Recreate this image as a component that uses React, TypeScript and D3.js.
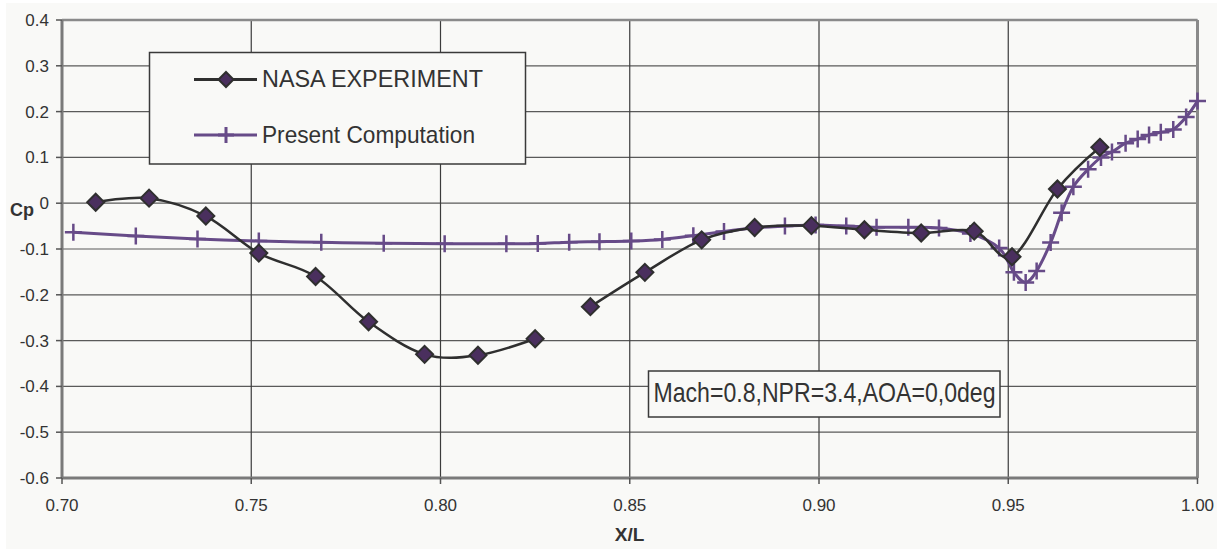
import React from "react";
import * as d3 from "d3";

const nasaX: (number)[] = [0.7089, 0.723, 0.738, 0.752, 0.767, 0.781, 0.7958, 0.8099, 0.825, 0.832, 0.8396, 0.854, 0.869, 0.883, 0.898, 0.912, 0.927, 0.941, 0.951, 0.963, 0.9742];
const nasaY: (number | null)[] = [0.002, 0.011, -0.028, -0.109, -0.16, -0.259, -0.33, -0.332, -0.296, null, -0.226, -0.151, -0.08, -0.053, -0.049, -0.058, -0.065, -0.061, -0.117, 0.031, 0.122];

const compX: number[] = [0.703, 0.7195, 0.7358, 0.752, 0.7685, 0.785, 0.8011, 0.8174, 0.8257, 0.834, 0.842, 0.8504, 0.8586, 0.8668, 0.8749, 0.883, 0.891, 0.8991, 0.9072, 0.9152, 0.9236, 0.9317, 0.94, 0.9476, 0.9515, 0.9546, 0.9575, 0.9612, 0.9641, 0.9672, 0.9711, 0.9745, 0.9774, 0.981, 0.9842, 0.9872, 0.9903, 0.9936, 0.997, 1.0];
const compY: number[] = [-0.0636, -0.0716, -0.078, -0.0825, -0.0854, -0.0876, -0.0884, -0.0884, -0.088, -0.085, -0.084, -0.0825, -0.079, -0.071, -0.062, -0.0535, -0.05, -0.0476, -0.05, -0.0526, -0.0526, -0.054, -0.066, -0.098, -0.151, -0.173, -0.148, -0.086, -0.0207, 0.036, 0.074, 0.1, 0.112, 0.131, 0.14, 0.149, 0.155, 0.161, 0.188, 0.223];

const xTicks: number[] = [0.7, 0.75, 0.8, 0.85, 0.9, 0.95, 1.0];
const yTicks: number[] = [0.4, 0.3, 0.2, 0.1, 0, -0.1, -0.2, -0.3, -0.4, -0.5, -0.6];

const seriesNames = ["NASA EXPERIMENT", "Present Computation"];
const annotation = "Mach=0.8,NPR=3.4,AOA=0,0deg";

const W = 1227;
const H = 550;
const FONT = "'Liberation Sans', Arial, Helvetica, sans-serif";
const NASA_LINE = "#2f2f2f";
const NASA_FILL = "#4a2f5e";
const COMP = "#674b88";
const BG = "#f9f9f7";
const TXT = "#333333";

export default function App() {
  const x = d3.scaleLinear().domain([0.7, 1.0]).range([62, 1197.5]);
  const y = d3.scaleLinear().domain([-0.6, 0.4]).range([478, 20]);

  type P = { x: number; y: number | null };
  const nasa: P[] = nasaX.map((v, i) => ({ x: v, y: nasaY[i] }));
  const comp: P[] = compX.map((v, i) => ({ x: v, y: compY[i] }));

  const line = d3
    .line<P>()
    .defined((d) => d.y !== null)
    .x((d) => x(d.x))
    .y((d) => y(d.y as number))
    .curve(d3.curveCardinal.tension(0));

  const diamond = (cx: number, cy: number, r: number) =>
    `M${cx},${cy - r}L${cx + r},${cy}L${cx},${cy + r}L${cx - r},${cy}Z`;
  const plus = (cx: number, cy: number, r: number) =>
    `M${cx - r},${cy}L${cx + r},${cy}M${cx},${cy - r}L${cx},${cy + r}`;

  const yFmt = (v: number) =>
    Math.abs(v) < 1e-9 ? "0" : d3.format(".1f")(v).replace("\u2212", "-");
  const xFmt = d3.format(".2f");

  return (
    <svg
      width={W}
      height={H}
      style={{ position: "absolute", left: 0, top: 0, display: "block" }}
      fontFamily={FONT}
    >
      <rect x={0} y={0} width={W} height={H} fill="#ffffff" />
      <rect x={6} y={3} width={1211} height={546} fill={BG} />

      {/* gridlines */}
      {yTicks.map((t) => (
        <line key={"gy" + t} x1={62} x2={1197.5} y1={y(t)} y2={y(t)} stroke="#5a5a5a" strokeWidth={1.2} />
      ))}
      {xTicks.map((t) => (
        <line key={"gx" + t} x1={x(t)} x2={x(t)} y1={20} y2={478} stroke="#3c3c3c" strokeWidth={1.2} />
      ))}

      {/* plot border */}
      <line x1={62} x2={1197.5} y1={20} y2={20} stroke="#8a8a8a" strokeWidth={2.5} />
      <line x1={1197.5} x2={1197.5} y1={20} y2={478} stroke="#8a8a8a" strokeWidth={3} />
      {/* axes */}
      <line x1={62} x2={62} y1={20} y2={478} stroke="#7a7a7a" strokeWidth={3} />
      <line x1={62} x2={1197.5} y1={478} y2={478} stroke="#7a7a7a" strokeWidth={3} />

      {/* ticks */}
      {yTicks.map((t) => (
        <g key={"ty" + t}>
          <line x1={56} x2={62} y1={y(t)} y2={y(t)} stroke="#555" strokeWidth={1.5} />
          <text x={49} y={y(t)} dy="0.35em" textAnchor="end" fontSize={17} fill={TXT}>
            {yFmt(t)}
          </text>
        </g>
      ))}
      {xTicks.map((t) => (
        <g key={"tx" + t}>
          <line x1={x(t)} x2={x(t)} y1={478} y2={484} stroke="#555" strokeWidth={1.5} />
          <text x={x(t)} y={511} textAnchor="middle" fontSize={17} fill={TXT}>
            {xFmt(t)}
          </text>
        </g>
      ))}

      <text x={10} y={216} fontSize={18} fontWeight="bold" fill={TXT}>Cp</text>
      <text x={629.5} y={541} textAnchor="middle" fontSize={19} fontWeight="bold" fill={TXT}>X/L</text>

      {/* legend */}
      <rect x={149.5} y={52.5} width={376} height={111.5} fill={BG} stroke="#3a3a3a" strokeWidth={1.5} />
      <line x1={194} x2={257} y1={79.5} y2={79.5} stroke={NASA_LINE} strokeWidth={3} />
      <path d={diamond(226, 79.5, 7.5)} fill={NASA_FILL} stroke={NASA_LINE} strokeWidth={2} />
      <text x={262} y={87.3} fontSize={24} fill={TXT} textLength={221} lengthAdjust="spacingAndGlyphs">
        {seriesNames[0]}
      </text>
      <line x1={194} x2={257} y1={135} y2={135} stroke={COMP} strokeWidth={3} />
      <path d={plus(226, 135, 8)} stroke={COMP} strokeWidth={3} fill="none" />
      <text x={262} y={142.7} fontSize={24} fill={TXT} textLength={213} lengthAdjust="spacingAndGlyphs">
        {seriesNames[1]}
      </text>

      {/* annotation */}
      <rect x={648.5} y={371} width={351.5} height={46} fill={BG} stroke="#3a3a3a" strokeWidth={1.5} />
      <text x={653.5} y={401.7} fontSize={27.5} fill={TXT} textLength={342} lengthAdjust="spacingAndGlyphs">
        {annotation}
      </text>

      {/* computation series */}
      <path d={line(comp) || ""} fill="none" stroke={COMP} strokeWidth={3} />
      {comp.map((d, i) => (
        <path key={"c" + i} d={plus(x(d.x), y(d.y as number), 8.5)} stroke={COMP} strokeWidth={2.5} fill="none" />
      ))}

      {/* NASA series */}
      <path d={line(nasa) || ""} fill="none" stroke={NASA_LINE} strokeWidth={2.5} />
      {nasa
        .filter((d) => d.y !== null)
        .map((d, i) => (
          <path key={"n" + i} d={diamond(x(d.x), y(d.y as number), 8.5)} fill={NASA_FILL} stroke={NASA_LINE} strokeWidth={2} />
        ))}
    </svg>
  );
}
